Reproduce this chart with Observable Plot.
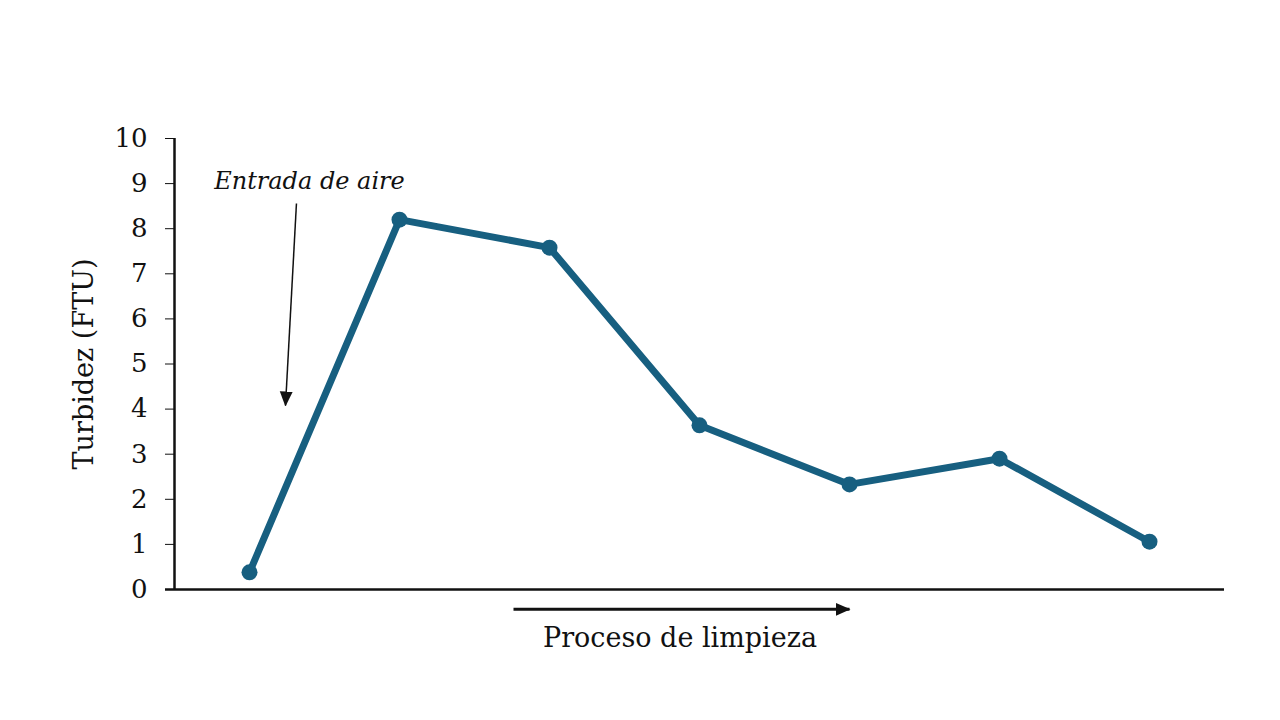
<!DOCTYPE html>
<html>
<head>
<meta charset="utf-8">
<script src="https://cdn.jsdelivr.net/npm/d3@7"></script>
<script src="https://cdn.jsdelivr.net/npm/@observablehq/plot@0.6"></script>
<style>
  html, body { margin: 0; padding: 0; background: #fff; }
  #chart svg { display: block; }
</style>
</head>
<body>
<div id="chart"></div>
<script>
// Data
const steps = [1, 2, 3, 4, 5, 6, 7];
const turbidity = [0.38, 8.2, 7.58, 3.64, 2.33, 2.9, 1.06];
const yTicks = [0, 1, 2, 3, 4, 5, 6, 7, 8, 9, 10];
const yLabel = "Turbidez (FTU)";

// Annotations (in data units)
const annotationText = ["Entrada de aire", "Proceso de limpieza"];
const annotationX = [1.4, 3.87];
const annotationY = [9.05, -1.09];
const annotationSize = [24, 27];
const annotationStyle = ["italic", "normal"];
const arrowX1 = [1.313, 2.76];
const arrowX2 = [1.24, 5.0];
const arrowY1 = [8.56, -0.44];
const arrowY2 = [4.08, -0.44];
const arrowWidth = [1.5, 3];

const series = steps.map((s, i) => ({step: s, value: turbidity[i]}));
const notes = annotationText.map((t, i) => ({text: t, x: annotationX[i], y: annotationY[i], size: annotationSize[i], style: annotationStyle[i]}));
const arrows = arrowX1.map((x1, i) => ({x1, x2: arrowX2[i], y1: arrowY1[i], y2: arrowY2[i], w: arrowWidth[i]}));

const lineColor = "#175f80";
const font = "'DejaVu Serif', 'Liberation Serif', serif";

function filledArrow(color, context) {
  const m = d3.create("svg:marker")
    .attr("viewBox", "-15 -7 15 14")
    .attr("markerWidth", 15)
    .attr("markerHeight", 14)
    .attr("markerUnits", "userSpaceOnUse")
    .attr("refX", -1)
    .attr("refY", 0)
    .attr("orient", "auto");
  m.append("path").attr("d", "M-15,-6.5L0,0L-15,6.5Z").attr("fill", color).attr("stroke", "none");
  return m.node();
}

const chart = Plot.plot({
  width: 1280,
  height: 720,
  marginLeft: 174,
  marginRight: 56,
  marginTop: 138,
  marginBottom: 131,
  style: {fontFamily: font, fontSize: "26px", color: "#111", background: "#fff"},
  x: {domain: [0.5, 7.5], axis: null},
  y: {domain: [0, 10]},
  marks: [
    Plot.axisY({
      ticks: yTicks,
      tickSize: 9,
      tickPadding: 18,
      tickFormat: d3.format("d"),
      fontSize: 26,
      label: null
    }),
    Plot.axisY({
      ticks: [],
      tickSize: 0,
      label: yLabel,
      labelAnchor: "center",
      labelArrow: "none",
      labelOffset: 101,
      fontSize: 27
    }),
    Plot.ruleX([0.5], {y1: 0, y2: 10, stroke: "#111", strokeWidth: 2.5}),
    Plot.ruleY([0], {stroke: "#111", strokeWidth: 2.5, insetLeft: -9}),
    Plot.line(series, {x: "step", y: "value", stroke: lineColor, strokeWidth: 7, strokeLinejoin: "round"}),
    Plot.dot(series, {x: "step", y: "value", fill: lineColor, r: 8}),
    Plot.link(arrows, {x1: "x1", y1: "y1", x2: "x2", y2: "y2", stroke: "#111", strokeWidth: "w", markerEnd: filledArrow}),
    Plot.text(notes.slice(0, 1), {x: "x", y: "y", text: "text", fontStyle: "italic", fontSize: 24, fill: "#111"}),
    Plot.text(notes.slice(1), {x: "x", y: "y", text: "text", fontSize: 27, fill: "#111"})
  ]
});
document.getElementById("chart").append(chart);
</script>
</body>
</html>
